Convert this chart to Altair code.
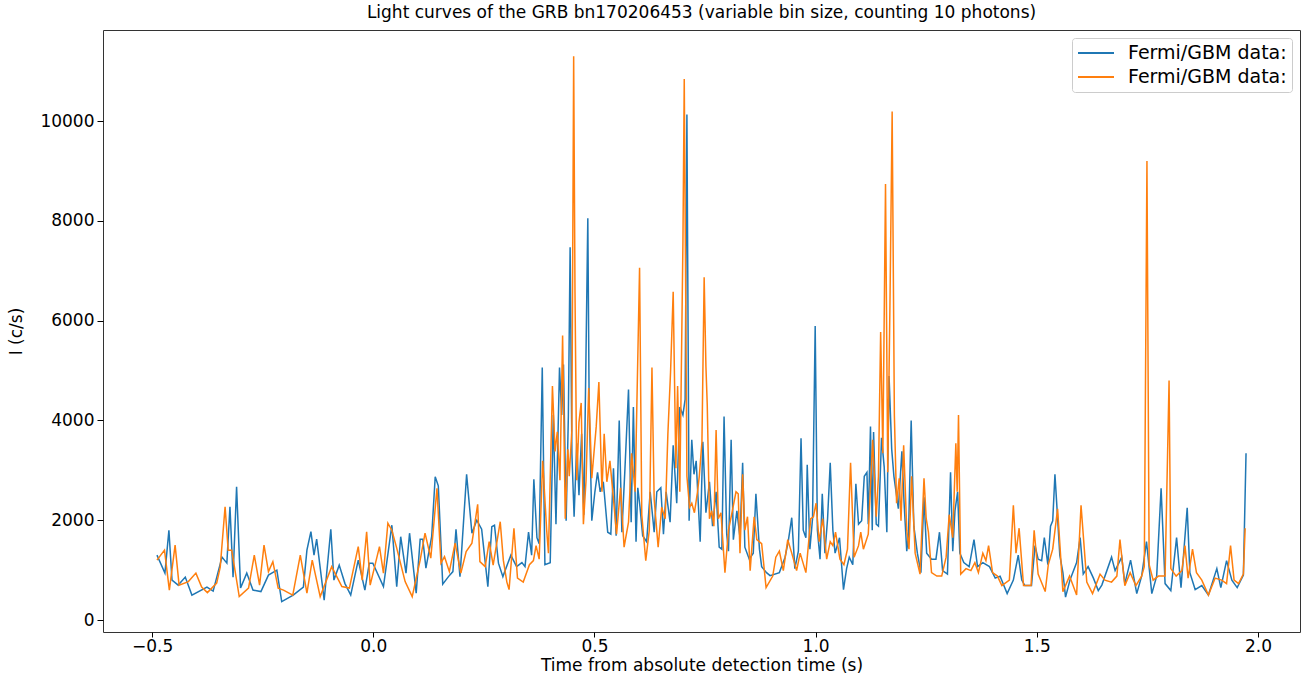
import altair as alt
import pandas as pd

# ---- data ----
blue_t = [-0.489, -0.471, -0.462, -0.455, -0.441, -0.425, -0.410, -0.376, -0.362, -0.342,
          -0.331, -0.324, -0.317, -0.309, -0.300, -0.286, -0.272, -0.254, -0.237, -0.218,
          -0.207, -0.181, -0.158, -0.150, -0.141, -0.134, -0.128, -0.111, -0.096, -0.089,
          -0.077, -0.064, -0.051, -0.034, -0.019, -0.009, -0.001, 0.023, 0.042, 0.053,
          0.062, 0.074, 0.082, 0.097, 0.106, 0.112, 0.119, 0.132, 0.140, 0.147,
          0.157, 0.170, 0.180, 0.187, 0.196, 0.211, 0.223, 0.234, 0.245, 0.259,
          0.268, 0.274, 0.283, 0.293, 0.311, 0.324, 0.336, 0.343, 0.351, 0.358,
          0.363, 0.370, 0.375, 0.382, 0.388, 0.400, 0.407, 0.413, 0.421, 0.426,
          0.430, 0.436, 0.441, 0.445, 0.449, 0.454, 0.460, 0.465, 0.471, 0.476,
          0.485, 0.488, 0.494, 0.501, 0.507, 0.513, 0.520, 0.530, 0.537, 0.543,
          0.549, 0.556, 0.562, 0.569, 0.577, 0.583, 0.588, 0.594, 0.598, 0.603,
          0.609, 0.618, 0.626, 0.635, 0.641, 0.650, 0.656, 0.662, 0.671, 0.678,
          0.686, 0.693, 0.700, 0.705, 0.709, 0.714, 0.720, 0.725, 0.730, 0.739,
          0.745, 0.752, 0.760, 0.767, 0.775, 0.782, 0.788, 0.793, 0.799, 0.803,
          0.809, 0.814, 0.822, 0.829, 0.835, 0.840, 0.850, 0.859, 0.865, 0.873,
          0.878, 0.889, 0.897, 0.918, 0.931, 0.938, 0.946, 0.953, 0.961, 0.967,
          0.972, 0.978, 0.981, 0.987, 0.993, 0.999, 1.004, 1.010, 1.015, 1.021,
          1.027, 1.033, 1.039, 1.044, 1.054, 1.063, 1.070, 1.076, 1.084, 1.091,
          1.097, 1.104, 1.110, 1.116, 1.119, 1.124, 1.128, 1.131, 1.137, 1.142,
          1.149, 1.155, 1.161, 1.166, 1.172, 1.177, 1.187, 1.195, 1.200, 1.206,
          1.210, 1.216, 1.222, 1.230, 1.238, 1.245, 1.251, 1.262, 1.272, 1.280,
          1.287, 1.298, 1.305, 1.310, 1.315, 1.321, 1.326, 1.335, 1.347, 1.358,
          1.366, 1.378, 1.393, 1.406, 1.417, 1.433, 1.447, 1.458, 1.466, 1.473,
          1.488, 1.496, 1.503, 1.511, 1.517, 1.525, 1.531, 1.536, 1.541, 1.546,
          1.552, 1.559, 1.565, 1.575, 1.590, 1.598, 1.605, 1.616, 1.628, 1.639,
          1.647, 1.669, 1.677, 1.692, 1.699, 1.712, 1.726, 1.737, 1.748, 1.760,
          1.771, 1.781, 1.790, 1.803, 1.816, 1.826, 1.840, 1.846, 1.858, 1.873,
          1.888, 1.907, 1.916, 1.929, 1.941, 1.953, 1.967, 1.973]
blue_i = [1300, 940, 1800, 800, 700, 860, 500, 660, 580, 1260,
          1140, 2270, 860, 2670, 640, 940, 600, 570, 900, 1000,
          370, 500, 660, 1400, 1770, 1300, 1620, 400, 1820, 800,
          1100, 730, 500, 1200, 600, 1140, 1140, 670, 1900, 670,
          1670, 940, 1740, 540, 1620, 1620, 1040, 1670, 2870, 2690,
          720, 870, 970, 1820, 870, 2920, 1740, 2000, 1820, 670,
          1870, 1900, 1140, 870, 1300, 1070, 1150, 1070, 1760, 1300,
          2820, 1650, 1530, 5060, 1110, 1150, 4110, 1920, 5060, 4110,
          5120, 1990, 4080, 7470, 3340, 2070, 3540, 2500, 3730, 2110,
          8050, 4350, 1990, 2570, 2960, 2570, 2770, 1760, 1720, 3040,
          1690, 4000, 1760, 3040, 4620, 1960, 4270, 1570, 2650, 2260,
          1690, 1570, 2570, 1760, 2570, 2650, 1720, 2570, 1960, 3500,
          2340, 4270, 4110, 4420, 10130, 1990, 3610, 2920, 3190, 1570,
          3570, 2150, 2770, 1880, 2570, 1460, 1420, 4080, 1720, 1380,
          3610, 1610, 2190, 1650, 3150, 1460, 1220, 1340, 2530, 1420,
          1070, 950, 890, 950, 1260, 1570, 2050, 1030, 1380, 3640,
          1800, 1650, 3110, 1420, 2030, 5890, 1800, 1220, 2530, 1340,
          2030, 3150, 1800, 1340, 1650, 610, 1030, 1260, 1110, 2730,
          1920, 1990, 2880, 2960, 1920, 3880, 1800, 3770, 1920, 1880,
          3650, 3070, 1760, 4890, 3420, 2880, 2230, 3380, 2340, 1380,
          1720, 4000, 1880, 1340, 950, 2460, 1340, 1220, 1220, 1760,
          990, 920, 2960, 1380, 2190, 2570, 1340, 1150, 1070, 1610,
          1070, 1150, 1070, 840, 880, 530, 800, 1300, 800, 690,
          690, 1490, 1220, 1190, 1650, 1110, 1880, 1990, 2920, 2190,
          1300, 950, 460, 800, 1150, 1650, 920, 1070, 840, 590,
          700, 1260, 990, 1260, 730, 1200, 530, 880, 1570, 530,
          880, 2640, 730, 590, 1650, 650, 2250, 950, 610, 690,
          500, 1030, 650, 1190, 800, 650, 900, 3340]

orange_t = [-0.489, -0.472, -0.461, -0.448, -0.439, -0.418, -0.401, -0.388, -0.375, -0.354,
            -0.346, -0.335, -0.328, -0.320, -0.303, -0.282, -0.269, -0.257, -0.247, -0.237,
            -0.227, -0.215, -0.203, -0.182, -0.165, -0.150, -0.138, -0.120, -0.094, -0.071,
            -0.054, -0.034, -0.025, -0.015, -0.007, 0.014, 0.023, 0.033, 0.042, 0.053,
            0.072, 0.088, 0.106, 0.117, 0.130, 0.144, 0.153, 0.161, 0.172, 0.185,
            0.198, 0.210, 0.223, 0.236, 0.241, 0.253, 0.262, 0.271, 0.287, 0.294,
            0.302, 0.307, 0.318, 0.326, 0.339, 0.353, 0.362, 0.368, 0.375, 0.383,
            0.392, 0.396, 0.405, 0.411, 0.416, 0.422, 0.428, 0.434, 0.440, 0.443,
            0.449, 0.453, 0.456, 0.460, 0.465, 0.470, 0.475, 0.481, 0.487, 0.494,
            0.504, 0.510, 0.517, 0.522, 0.528, 0.535, 0.543, 0.550, 0.559, 0.567,
            0.577, 0.584, 0.592, 0.602, 0.607, 0.616, 0.624, 0.630, 0.635, 0.644,
            0.652, 0.660, 0.666, 0.672, 0.678, 0.684, 0.688, 0.693, 0.700, 0.703,
            0.709, 0.715, 0.720, 0.726, 0.733, 0.737, 0.743, 0.748, 0.752, 0.755,
            0.760, 0.765, 0.770, 0.775, 0.780, 0.786, 0.795, 0.803, 0.810, 0.820,
            0.825, 0.829, 0.835, 0.840, 0.846, 0.852, 0.861, 0.867, 0.878, 0.888,
            0.903, 0.910, 0.918, 0.927, 0.937, 0.946, 0.957, 0.965, 0.978, 0.989,
            0.995, 1.001, 1.008, 1.016, 1.025, 1.033, 1.039, 1.045, 1.055, 1.064,
            1.072, 1.079, 1.087, 1.097, 1.102, 1.108, 1.119, 1.129, 1.137, 1.142,
            1.147, 1.152, 1.158, 1.163, 1.168, 1.173, 1.178, 1.183, 1.189, 1.193,
            1.199, 1.206, 1.211, 1.217, 1.225, 1.236, 1.245, 1.250, 1.255, 1.262,
            1.274, 1.285, 1.295, 1.302, 1.310, 1.317, 1.320, 1.323, 1.328, 1.340,
            1.351, 1.360, 1.368, 1.378, 1.385, 1.391, 1.400, 1.411, 1.421, 1.438,
            1.447, 1.453, 1.460, 1.470, 1.487, 1.494, 1.503, 1.519, 1.526, 1.536,
            1.547, 1.559, 1.574, 1.590, 1.600, 1.613, 1.626, 1.643, 1.654, 1.669,
            1.681, 1.688, 1.699, 1.711, 1.724, 1.737, 1.743, 1.749, 1.754, 1.763,
            1.775, 1.790, 1.799, 1.803, 1.815, 1.828, 1.835, 1.842, 1.852, 1.861,
            1.873, 1.888, 1.903, 1.918, 1.929, 1.938, 1.946, 1.956, 1.967, 1.971]
orange_i = [1200, 1400, 600, 1500, 700, 770, 940, 660, 550, 740,
            1060, 2270, 1400, 1400, 470, 640, 1300, 700, 1500, 970,
            1170, 640, 600, 500, 1300, 540, 1200, 470, 1070, 670,
            640, 1470, 800, 1770, 700, 1470, 940, 1940, 1800, 1440,
            770, 470, 1200, 1740, 1240, 2640, 1140, 1270, 970, 1540,
            940, 1370, 1540, 2320, 1170, 1070, 1570, 1100, 1970, 1200,
            760, 610, 1840, 840, 760, 1110, 1190, 1490, 1220, 3190,
            1800, 1340, 4690, 3380, 3770, 2800, 5700, 2030, 3420, 2880,
            3810, 11300, 6580, 2800, 3960, 4350, 1920, 2800, 4650, 2840,
            3880, 4770, 2570, 3730, 2770, 3190, 2420, 1720, 2650, 1460,
            1960, 3340, 2570, 7060, 2110, 1190, 1800, 5060, 2420, 1460,
            2260, 2030, 3730, 4960, 6580, 3040, 4690, 2570, 7550, 10840,
            2880, 2260, 2340, 2150, 2570, 2880, 3570, 6870, 5080, 4310,
            2030, 2190, 1880, 3810, 2030, 2150, 950, 1800, 2110, 2570,
            2530, 1340, 2920, 1800, 2070, 990, 2070, 1610, 1530, 650,
            880, 1260, 1380, 990, 1610, 1340, 990, 1340, 950, 2030,
            2070, 2340, 1570, 2030, 1220, 1570, 1490, 1760, 1220, 1110,
            1420, 3150, 1260, 1490, 1760, 1420, 1720, 3610, 2070, 2880,
            5770, 3340, 8740, 2960, 6300, 10190, 4110, 2340, 2840, 1990,
            3500, 1800, 1420, 2880, 1340, 920, 2840, 2030, 1760, 950,
            880, 880, 1260, 2110, 1650, 3540, 2570, 4110, 920, 1030,
            990, 1150, 950, 1340, 1190, 1490, 950, 880, 690, 800,
            2300, 1340, 1840, 690, 690, 1800, 920, 570, 1110, 1420,
            2230, 570, 880, 500, 2300, 760, 530, 920, 800, 760,
            880, 1610, 690, 950, 690, 880, 1070, 9200, 1110, 800,
            880, 880, 4800, 1030, 880, 990, 1490, 840, 1420, 950,
            800, 500, 840, 800, 730, 1490, 800, 730, 920, 1840]

series_names = ["Fermi/GBM data (1)", "Fermi/GBM data (2)"]
legend_label = "Fermi/GBM data:"
series_colors = ["#1f77b4", "#ff7f0e"]
title_text = "Light curves of the GRB bn170206453 (variable bin size, counting 10 photons)"
x_title = "Time from absolute detection time (s)"
y_title = "I (c/s)"
x_ticks = [-0.5, 0.0, 0.5, 1.0, 1.5, 2.0]
y_ticks = [0, 2000, 4000, 6000, 8000, 10000]
x_domain = [-0.611, 2.095]
y_domain = [-240, 11824]

df_blue = pd.DataFrame({"t": blue_t, "i": blue_i, "series": series_names[0]})
df_orange = pd.DataFrame({"t": orange_t, "i": orange_i, "series": series_names[1]})

FONT = "DejaVu Sans"

x_enc = alt.X("t:Q", scale=alt.Scale(domain=x_domain, nice=False, zero=False),
              axis=alt.Axis(values=x_ticks, format=".1f", title=x_title, grid=False,
                            tickSize=5, labelPadding=1, titlePadding=3,
                            labelFont=FONT, titleFont=FONT, labelFontSize=17,
                            titleFontSize=17, titleFontWeight="normal",
                            labelColor="#000000", titleColor="#000000",
                            tickColor="#000000", domain=False))
y_enc = alt.Y("i:Q", scale=alt.Scale(domain=y_domain, nice=False, zero=False),
              axis=alt.Axis(values=y_ticks, format="d", title=y_title, grid=False,
                            tickSize=6, labelPadding=3, titlePadding=14,
                            labelFont=FONT, titleFont=FONT, labelFontSize=17,
                            titleFontSize=17, titleFontWeight="normal",
                            labelColor="#000000", titleColor="#000000",
                            tickColor="#000000", domain=False))
color_enc = alt.Color("series:N",
                      scale=alt.Scale(domain=series_names, range=series_colors),
                      legend=alt.Legend(title=None, orient="none", legendX=969, legendY=8,
                                        labelExpr="'" + legend_label + "'",
                                        symbolType="M-2,0H2", symbolSize=324,
                                        symbolOffset=9, symbolFillColor="transparent",
                                        symbolStrokeWidth=2, labelFontSize=19,
                                        labelFont=FONT, labelColor="#000000",
                                        strokeColor="#cccccc", fillColor="#ffffff",
                                        cornerRadius=3, padding=5, rowPadding=4,
                                        labelOffset=22))

line_blue = alt.Chart(df_blue).mark_line(strokeWidth=1.5, clip=True).encode(
    x=x_enc, y=y_enc, color=color_enc)
line_orange = alt.Chart(df_orange).mark_line(strokeWidth=1.5, clip=True).encode(
    x=x_enc, y=y_enc, color=color_enc)

chart = alt.layer(line_blue, line_orange).properties(
    width=1197, height=602,
    background="#ffffff",
    title=alt.TitleParams(title_text, font=FONT, fontSize=17, fontWeight="normal",
                          color="#000000", anchor="middle", baseline="bottom", offset=-9),
    autosize=alt.AutoSizeParams(type="none"),
    padding={"left": 103, "top": 30, "right": 7, "bottom": 43},
).configure_view(
    stroke="#333333", strokeWidth=1
)

chart.save("out.html", embed_options={"renderer": "svg", "actions": False})
